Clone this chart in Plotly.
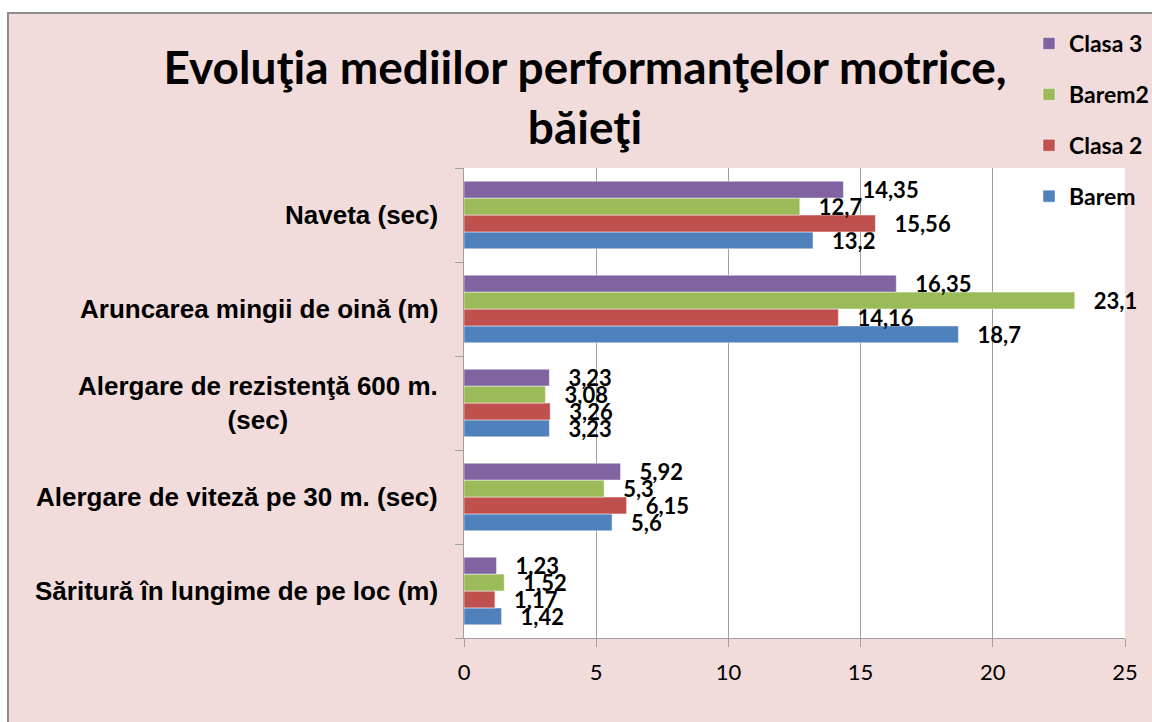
import plotly.graph_objects as go

# ---- data (bottom-to-top category order) ----
categories = [
    "Săritură în lungime de pe loc (m)",
    "Alergare de viteză pe 30 m. (sec)",
    "Alergare de rezistenţă 600 m.<br>(sec)",
    "Aruncarea mingii de oină (m)",
    "Naveta (sec)",
]
barem = [1.42, 5.6, 3.23, 18.7, 13.2]
clasa2 = [1.17, 6.15, 3.26, 14.16, 15.56]
barem2 = [1.52, 5.3, 3.08, 23.1, 12.7]
clasa3 = [1.23, 5.92, 3.23, 16.35, 14.35]
series_names = ["Barem", "Clasa 2", "Barem2", "Clasa 3"]
series_values = [barem, clasa2, barem2, clasa3]
colors = ["#4F81BD", "#C0504D", "#9BBB59", "#8064A2"]
x_ticks = [0, 5, 10, 15, 20, 25]

FONT = "Lato"
CAT_FONT = "Liberation Sans"
W, H = 1152, 722
L, R, T, B = 464, 27, 168, 84
pw, ph = W - L - R, H - T - B


def px2x(px):
    return (px - L) / pw


def py2y(py):
    return (H - B - py) / ph


def fmt(v):
    return ("%g" % v).replace(".", ",")


fig = go.Figure()
n = len(series_names)
for i, (name, vals, col) in enumerate(zip(series_names, series_values, colors)):
    fig.add_trace(go.Bar(
        y=categories, x=vals, orientation="h", name=name,
        legendgroup=name, legendrank=n - i,
        marker=dict(color=col, line=dict(color="rgba(255,255,255,0.6)", width=0.8)),
        text=["\u00a0\u00a0\u00a0" + fmt(v) for v in vals],
        textposition="outside", constraintext="none", cliponaxis=False,
        textfont=dict(family=FONT, size=22, color="black", weight="bold"),
    ))

# category labels (centered multi-line)
for c in categories:
    fig.add_annotation(
        x=px2x(440), xref="paper", y=c, yref="y", xanchor="right",
        text=c, align="center", showarrow=False,
        font=dict(family=CAT_FONT, size=26, color="black", weight="bold"),
    )

# background frame
fig.add_shape(type="rect", xref="paper", yref="paper",
              x0=px2x(8), x1=px2x(1170), y0=py2y(740), y1=py2y(13),
              line=dict(color="#8C8C8C", width=2), fillcolor="rgba(0,0,0,0)", layer="below")
fig.add_shape(type="rect", xref="paper", yref="paper",
              x0=px2x(-5), x1=px2x(1170), y0=py2y(12), y1=py2y(-5),
              line=dict(width=0), fillcolor="white", layer="below")
fig.add_shape(type="rect", xref="paper", yref="paper",
              x0=px2x(-5), x1=px2x(7), y0=py2y(740), y1=py2y(-5),
              line=dict(width=0), fillcolor="white", layer="below")

fig.update_layout(
    width=W, height=H,
    margin=dict(l=L, r=R, t=T, b=B, autoexpand=False),
    paper_bgcolor="#F2DCDB", plot_bgcolor="white",
    barmode="group", bargap=0.28, bargroupgap=0,
    font=dict(family=FONT, color="black"),
    title=dict(
        text="Evoluţia mediilor performanţelor motrice,<br>băieţi",
        x=585 / W, xanchor="center", xref="container",
        y=1 - 84 / H, yanchor="middle", yref="container",
        font=dict(family=FONT, size=46, color="black", weight="bold"),
    ),
    legend=dict(
        x=1029 / W, xref="container", xanchor="left",
        y=1 - 22 / H, yref="container", yanchor="top",
        traceorder="grouped", tracegroupgap=18,
        bgcolor="rgba(0,0,0,0)",
        font=dict(family=FONT, size=23, color="black", weight="bold"),
    ),
    showlegend=True,
)
fig.update_xaxes(
    range=[0, 25], tickvals=x_ticks, showgrid=True, gridcolor="#A0A0A0", gridwidth=1,
    showline=True, linecolor="#A0A0A0", linewidth=1, ticks="outside", ticklen=8,
    tickcolor="#A0A0A0", zeroline=False, ticklabelstandoff=7,
    tickfont=dict(family=FONT, size=22, color="black"),
)
fig.update_yaxes(
    type="category", categoryorder="array", categoryarray=categories,
    showticklabels=False, showgrid=False, showline=True, linecolor="#A0A0A0",
    linewidth=1, ticks="outside", ticklen=8, tickcolor="#A0A0A0", tickson="boundaries",
)

fig.write_html("out.html", config={"displayModeBar": False},
               post_script="document.body.style.margin='0px';")
